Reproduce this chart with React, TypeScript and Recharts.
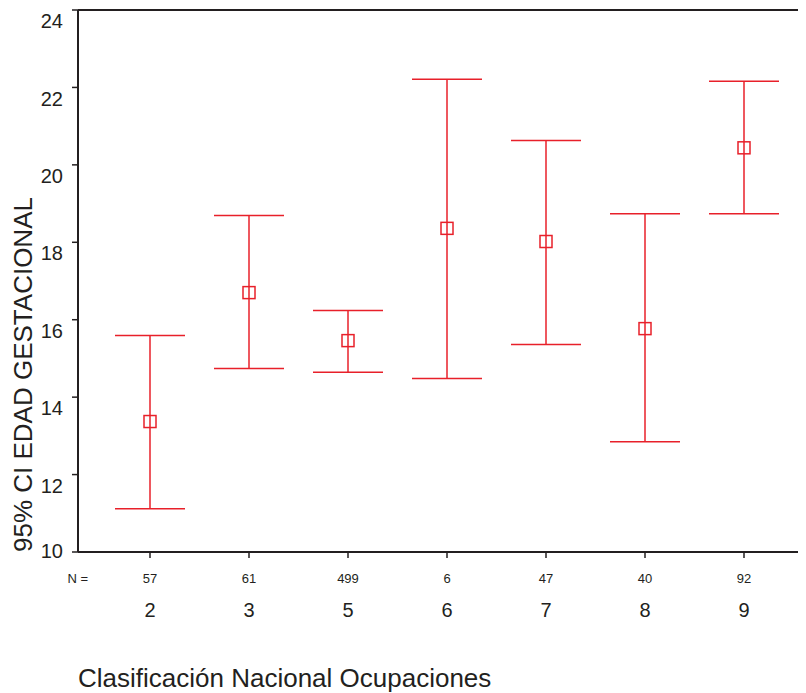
import React from "react";
import {
  ComposedChart,
  Line,
  ErrorBar,
  XAxis,
  YAxis,
  ReferenceLine,
} from "recharts";

const categories = ["2", "3", "5", "6", "7", "8", "9"];
const counts = [57, 61, 499, 6, 47, 40, 92];
const means = [13.37, 16.7, 15.46, 18.36, 18.02, 15.77, 20.44];
const lowerCI = [11.12, 14.74, 14.64, 14.48, 15.36, 12.85, 18.74];
const upperCI = [15.59, 18.69, 16.24, 22.21, 20.63, 18.74, 22.16];
const yTicks = [10, 12, 14, 16, 18, 20, 22, 24];

const data = categories.map((c, i) => ({
  cat: c,
  n: counts[i],
  mean: means[i],
  err: [means[i] - lowerCI[i], upperCI[i] - means[i]],
}));

const RED = "#e8202a";
const INK = "#231f20";
const FONT = '"Liberation Sans", Arial, Helvetica, sans-serif';

const SquareDot = (props: any) => {
  const { cx, cy } = props;
  if (cx == null || cy == null) return null;
  return (
    <rect
      x={cx - 6}
      y={cy - 6}
      width={12}
      height={12}
      fill="none"
      stroke={RED}
      strokeWidth={1.5}
    />
  );
};

const XTick = (props: any) => {
  const { x, y, payload, index } = props;
  return (
    <g fontFamily={FONT}>
      {index === 0 && (
        <text x={x - 62} y={y + 25} textAnchor="end" fontSize={13} fill={INK}>
          N =
        </text>
      )}
      <text x={x} y={y + 25} textAnchor="middle" fontSize={13} fill={INK}>
        {counts[index]}
      </text>
      <text x={x} y={y + 59} textAnchor="middle" fontSize={20} fill={INK}>
        {payload.value}
      </text>
    </g>
  );
};

// SPSS draws the labels a little below their tick marks (except the lowest)
const YTick = (props: any) => {
  const { x, y, payload } = props;
  const shift = payload.value === 10 ? -1 : 11;
  return (
    <text
      x={x}
      y={y + shift}
      dy="0.355em"
      textAnchor="end"
      fontSize={20}
      fill={INK}
      fontFamily={FONT}
    >
      {payload.value}
    </text>
  );
};

export default function App() {
  return (
    <ComposedChart
      width={798}
      height={685}
      data={data}
      margin={{ top: 2, right: 0, bottom: 0, left: 0 }}
      style={{ fontFamily: FONT }}
    >
      <XAxis
        dataKey="cat"
        scale="point"
        padding={{ left: 72, right: 62 }}
        height={141}
        tickSize={6}
        tickMargin={0}
        tick={<XTick />}
        axisLine={{ stroke: INK, strokeWidth: 2 }}
        tickLine={{ stroke: INK, strokeWidth: 1.5 }}
        label={{
          content: (p: any) => (
            <text
              x={p.viewBox.x}
              y={p.viewBox.y + 135}
              fontSize={26}
              fill={INK}
              fontFamily={FONT}
            >
              Clasificación Nacional Ocupaciones
            </text>
          ),
        }}
      />
      <YAxis
        type="number"
        domain={[10, 24]}
        ticks={yTicks}
        width={70}
        tickSize={6}
        tickMargin={9}
        interval={0}
        tick={<YTick />}
        axisLine={{ stroke: INK, strokeWidth: 2 }}
        tickLine={{ stroke: INK, strokeWidth: 1.5 }}
        label={{
          content: () => (
            <text
              x={24}
              y={544}
              transform="rotate(-90 24 544)"
              fontSize={26}
              fill={INK}
              fontFamily={FONT}
            >
              95% CI EDAD GESTACIONAL
            </text>
          ),
        }}
      />
      <ReferenceLine y={24} stroke={INK} strokeWidth={2} />
      <Line
        dataKey="mean"
        stroke="none"
        dot={<SquareDot />}
        activeDot={false}
        isAnimationActive={false}
      >
        <ErrorBar
          dataKey="err"
          direction="y"
          width={35}
          stroke={RED}
          strokeWidth={1.5}
        />
      </Line>
    </ComposedChart>
  );
}
